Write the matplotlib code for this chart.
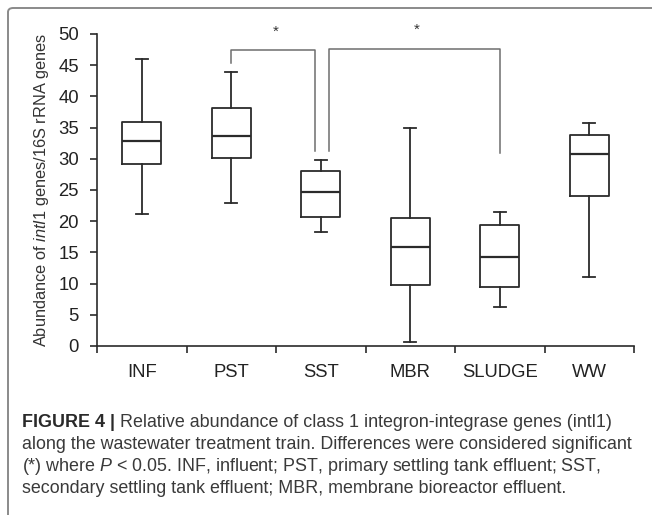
import matplotlib
matplotlib.use("Agg")
import matplotlib.pyplot as plt
from matplotlib.patches import FancyBboxPatch

plt.rcParams["font.family"] = ["Liberation Sans", "DejaVu Sans"]
plt.rcParams["mathtext.fontset"] = "custom"
plt.rcParams["mathtext.it"] = "Liberation Sans:italic"
plt.rcParams["mathtext.rm"] = "Liberation Sans"

# box statistics
categories = ["INF", "PST", "SST", "MBR", "SLUDGE", "WW"]
whisker_low = [21.2, 22.9, 18.2, 0.6, 6.3, 11.1]
q1 = [29.2, 30.1, 20.7, 9.7, 9.5, 24.0]
median = [32.9, 33.6, 24.6, 15.8, 14.2, 30.7]
q3 = [35.9, 38.1, 28.1, 20.5, 19.4, 33.8]
whisker_high = [46.0, 43.9, 29.8, 34.9, 21.5, 35.7]

# significance brackets: (left x, right x, left leg bottom, right leg bottom, top)
brackets = [(2.0, 2.94, 45.3, 31.2, 47.4), (3.09, 5.0, 31.2, 30.9, 47.6)]

caption_bold = "FIGURE 4 | "
caption_lines = [
    "Relative abundance of class 1 integron-integrase genes (intl1)",
    "along the wastewater treatment train. Differences were considered significant",
    "(*) where $P$ < 0.05. INF, influent; PST, primary settling tank effluent; SST,",
    "secondary settling tank effluent; MBR, membrane bioreactor effluent.",
]

W, H = 652, 515
fig = plt.figure(figsize=(W / 100, H / 100), dpi=100)

# frame around the figure panel
frame = FancyBboxPatch((8 / W, -0.2), 1.2, 1.2 - 8 / H,
                       boxstyle="round,pad=0,rounding_size=0.008",
                       transform=fig.transFigure, fill=False,
                       edgecolor="#8a8a8a", linewidth=1.4)
fig.patches.append(frame)

ax = fig.add_axes([97 / W, (H - 346) / H, (634 - 97) / W, 312 / H])

stats = []
for i, name in enumerate(categories):
    stats.append(dict(label=name, whislo=whisker_low[i], q1=q1[i], med=median[i],
                      q3=q3[i], whishi=whisker_high[i], fliers=[]))

line = dict(color="#2b2b2b", linewidth=1.3)
ax.bxp(stats, positions=range(1, 7), widths=0.44, showfliers=False,
       boxprops=line, whiskerprops=line, capprops=line,
       medianprops=dict(color="#2b2b2b", linewidth=1.6), capwidths=0.13)

for x0, x1, b0, b1, top in brackets:
    ax.plot([x0, x0, x1, x1], [b0, top, top, b1], color="#6e6e6e",
            linewidth=1.1, clip_on=False)
    ax.text((x0 + x1) / 2 + 0.03, top + 3.0, "*", ha="center", va="center",
            fontsize=11, color="#333333", clip_on=False)

ax.set_xlim(0.5, 6.5)
ax.set_ylim(0, 50)
ax.set_yticks(range(0, 51, 5))
ax.set_xticks([i + 0.5 for i in range(0, 7)], minor=False)
ax.set_xticklabels([])
ax.set_xticks(range(1, 7), minor=True)
ax.set_xticklabels(categories, minor=True)
ax.tick_params(axis="x", which="minor", length=0, pad=13, labelsize=13.3,
               labelcolor="#222222")
ax.tick_params(axis="x", which="major", length=5, width=1.2, color="#2b2b2b")
ax.tick_params(axis="y", length=5, width=1.2, color="#2b2b2b", pad=8,
               labelsize=13.3, labelcolor="#222222")
for side in ("top", "right"):
    ax.spines[side].set_visible(False)
for side in ("left", "bottom"):
    ax.spines[side].set_color("#2b2b2b")
    ax.spines[side].set_linewidth(1.2)

ax.set_ylabel(r"Abundance of $\mathit{intI1}$ genes/16S rRNA genes",
              fontsize=11.8, color="#333333", labelpad=5)

# caption
fs = 12.9
line_y = [427, 449, 471, 493]
bold = fig.text(22 / W, 1 - line_y[0] / H, caption_bold, fontsize=fs,
                fontweight="bold", color="#2a2a2a", va="baseline")
fig.canvas.draw()
bb = bold.get_window_extent()
fig.text(bb.x1 / W, 1 - line_y[0] / H, caption_lines[0], fontsize=fs,
         color="#3a3a3a", va="baseline")
for y, txt in zip(line_y[1:], caption_lines[1:]):
    fig.text(22 / W, 1 - y / H, txt, fontsize=fs, color="#3a3a3a", va="baseline")

fig.savefig("out.png", dpi=100)
